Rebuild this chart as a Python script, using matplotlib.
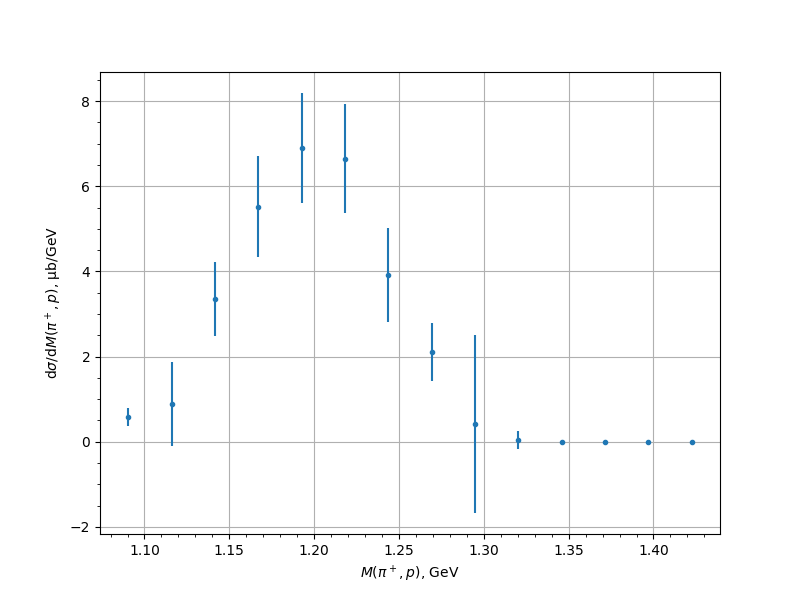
import matplotlib
matplotlib.use("Agg")
import matplotlib.pyplot as plt

# bin centres, GeV
mass = [1.0904, 1.1163, 1.1416, 1.1669, 1.1928, 1.2181, 1.2433,
        1.2696, 1.2946, 1.3202, 1.3461, 1.3714, 1.3967, 1.4226]
# cross section, ub/GeV
xsec = [0.58, 0.885, 3.36, 5.52, 6.90, 6.64, 3.91,
        2.105, 0.415, 0.04, 0.0, 0.0, 0.0, 0.0]
xsec_err = [0.21, 0.99, 0.87, 1.18, 1.29, 1.28, 1.11,
            0.68, 2.09, 0.22, 0.0, 0.0, 0.0, 0.0]

plt.figure(figsize=(8, 6))
plt.errorbar(mass, xsec, yerr=xsec_err, fmt=".")
plt.xlabel(r"$M(\pi^+, p)$, GeV")
plt.ylabel(r"d$\sigma$/d$M(\pi^+, p)$, μb/GeV")
plt.minorticks_on()
plt.grid()
plt.savefig("out.png", dpi=100)
